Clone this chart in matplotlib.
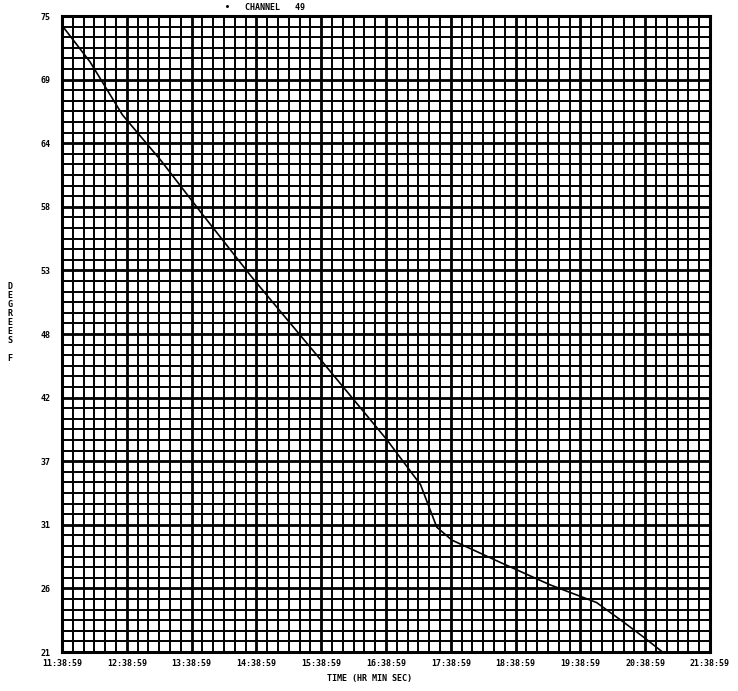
import numpy as np
import matplotlib
matplotlib.use("Agg")
import matplotlib.pyplot as plt

# 数据: 起始时刻后的分钟数, 温度
elapsed_min = [0, 26, 56, 91, 128, 176, 236, 301, 332, 347, 361, 406, 452, 495, 519, 538, 556, 568]
temp = [74.2, 71.1, 66.6, 62.8, 58.4, 52.8, 46.2, 39.0, 35.2, 31.6, 30.5, 28.6, 26.7, 25.2, 23.6, 22.3, 21.0, 21.0]

x_labels = ['11:38:59', '12:38:59', '13:38:59', '14:38:59', '15:38:59', '16:38:59',
            '17:38:59', '18:38:59', '19:38:59', '20:38:59', '21:38:59']
y_labels = ['21', '26', '31', '37', '42', '48', '53', '58', '64', '69', '75']

y_min, y_max = 21, 75
t0 = 11 + 38 / 60 + 59 / 3600
hours = t0 + np.array(elapsed_min) / 60.0

fig = plt.figure(figsize=(7.38, 6.91), dpi=100)
ax = fig.add_axes([62 / 738, 1 - 652 / 691, 648 / 738, 636 / 691])

x_major = t0 + np.arange(len(x_labels))
y_major = np.linspace(y_min, y_max, len(y_labels))
ax.set_xlim(x_major[0], x_major[-1])
ax.set_ylim(y_min, y_max)

# 网格: 主线和细分线 (每格6等分)
ax.set_xticks(x_major)
ax.set_yticks(y_major)
ax.set_xticks(np.linspace(x_major[0], x_major[-1], 61), minor=True)
ax.set_yticks(np.linspace(y_min, y_max, 61), minor=True)
ax.grid(which='major', color='black', linewidth=2.0)
ax.grid(which='minor', color='black', linewidth=1.4)
ax.set_axisbelow(True)
ax.tick_params(which='both', length=0)

font = dict(family='DejaVu Sans Mono', fontweight='bold', fontsize=6)
ax.set_xticklabels(x_labels, **font)
ax.set_yticklabels(y_labels, **font)
ax.tick_params(axis='x', pad=5)
ax.tick_params(axis='y', pad=8)

for s in ax.spines.values():
    s.set_linewidth(2.2)

ax.plot(hours, temp, color='black', linewidth=1.2, clip_on=False)

fig.text(265 / 738, 1 - 8 / 691, '\u2022   CHANNEL   49', ha='center', va='center', **font)
fig.text(370 / 738, 1 - 679 / 691, 'TIME (HR MIN SEC)', ha='center', va='center', **font)
fig.text(10 / 738, 1 - 322 / 691, 'D\nE\nG\nR\nE\nE\nS\n\nF', ha='center', va='center',
         linespacing=1.0, **font)

fig.savefig('out.png', dpi=100)
